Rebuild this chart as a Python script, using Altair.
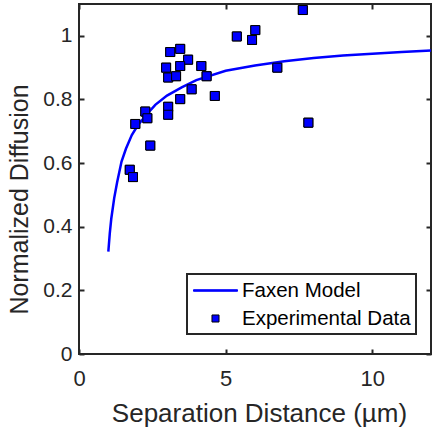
import altair as alt
import pandas as pd

# ---- data ----
series_names = ["Faxen Model", "Experimental Data"]

exp_dist = [5.38, 6.01, 5.90, 3.11, 3.45, 3.72, 2.97, 3.45, 4.17, 3.04, 3.31, 4.35, 3.84,
            3.45, 4.63, 2.26, 2.33, 3.04, 3.04, 1.92, 2.43, 1.73, 1.84, 7.63, 6.76, 7.82]
exp_diff = [0.998, 1.018, 0.987, 0.949, 0.959, 0.925, 0.900, 0.905, 0.905, 0.869, 0.873, 0.873, 0.832,
            0.801, 0.811, 0.762, 0.741, 0.777, 0.752, 0.723, 0.655, 0.579, 0.556, 1.081, 0.900, 0.727]

model_dist = [1.0, 1.05, 1.1, 1.2, 1.3, 1.45, 1.6, 1.8, 2.0, 2.3, 2.6, 3.0, 3.5, 4.0,
              5.0, 6.0, 7.0, 8.0, 9.0, 10.0, 11.0, 12.0]
model_diff = [0.322, 0.38, 0.425, 0.49, 0.54, 0.605, 0.645, 0.688, 0.718, 0.752, 0.783, 0.812,
              0.838, 0.861, 0.89, 0.907, 0.92, 0.93, 0.938, 0.944, 0.949, 0.954]

x_ticks = [0, 5, 10]
y_ticks = [0, 0.2, 0.4, 0.6, 0.8, 1]
x_domain = [0, 12]
y_domain = [0, 1.1]

pts = pd.DataFrame({"dist": exp_dist, "diff": exp_diff, "series": series_names[1]})
mdl = pd.DataFrame({"dist": model_dist, "diff": model_diff, "series": series_names[0]})

# ---- styling ----
W, H = 352, 350
FONT = "Liberation Sans"
AX = "#262626"
LINE_SHAPE = "M-2,-0.07H2V0.07H-2Z"
SQUARE_SHAPE = "M-0.32,-0.32H0.32V0.32H-0.32Z"

xs = alt.Scale(domain=x_domain, nice=False, zero=False)
ys = alt.Scale(domain=y_domain, nice=False, zero=False)

leg = alt.Legend(orient="none", legendX=108, legendY=270)
fill_enc = alt.Fill("series:N", title=None, legend=leg,
                    scale=alt.Scale(domain=series_names, range=["#0000ff", "#0000ff"]))
stroke_enc = alt.Stroke("series:N", title=None, legend=leg,
                        scale=alt.Scale(domain=series_names, range=["#0000ff", "#000000"]))
shape_enc = alt.Shape("series:N", title=None, legend=leg,
                      scale=alt.Scale(domain=series_names, range=[LINE_SHAPE, SQUARE_SHAPE]))

ax_x_main = alt.Axis(orient="bottom", values=x_ticks, ticks=False, domain=False, grid=False,
                     labelFontSize=22, labelPadding=14, labelFlush=False, titleFontSize=26,
                     titleFontWeight="normal", titleBaseline="alphabetic", titleY=67, titleX=180)
ax_x_in_bottom = alt.Axis(orient="top", offset=-H, values=x_ticks, labels=False, domain=False,
                          grid=False, ticks=True, tickSize=5, tickWidth=2)
ax_x_in_top = alt.Axis(orient="bottom", offset=-H, values=x_ticks, labels=False, domain=False,
                       grid=False, ticks=True, tickSize=5, tickWidth=2)

ax_y_main = alt.Axis(orient="left", values=y_ticks, format="~g", ticks=False, domain=False, grid=False,
                     labelFontSize=21, labelPadding=7, labelFlush=False, titleFontSize=25,
                     titleFontWeight="normal", titleBaseline="alphabetic", titleX=-52, titleY=195)
ax_y_in_left = alt.Axis(orient="right", offset=-W, values=y_ticks, labels=False, domain=False,
                        grid=False, ticks=True, tickSize=5, tickWidth=2)
ax_y_in_right = alt.Axis(orient="left", offset=-W, values=y_ticks, labels=False, domain=False,
                         grid=False, ticks=True, tickSize=5, tickWidth=2)

points_under = alt.Chart(pts).mark_point(filled=True, size=784, strokeWidth=1, opacity=1).encode(
    x=alt.X("dist:Q", scale=xs, axis=ax_x_main, title="Separation Distance (µm)"),
    y=alt.Y("diff:Q", scale=ys, axis=ax_y_main, title="Normalized Diffusion"),
    fill=fill_enc, stroke=stroke_enc, shape=shape_enc,
)

line = alt.Chart(mdl).mark_line(strokeWidth=2.5).encode(
    x=alt.X("dist:Q", scale=xs, axis=ax_x_in_bottom, title=None),
    y=alt.Y("diff:Q", scale=ys, axis=ax_y_in_left, title=None),
    stroke=stroke_enc,
)

points_over = alt.Chart(pts).mark_point(filled=True, size=784, strokeWidth=1, opacity=1).encode(
    x=alt.X("dist:Q", scale=xs, axis=ax_x_in_top, title=None),
    y=alt.Y("diff:Q", scale=ys, axis=ax_y_in_right, title=None),
    fill=fill_enc, stroke=stroke_enc, shape=shape_enc,
)

chart = alt.layer(points_under, line, points_over).resolve_scale(
    x="independent", y="independent"
).properties(
    width=W, height=H,
    padding={"left": 79, "top": 4, "right": 2, "bottom": 80},
    autosize=alt.AutoSizeParams(type="none"),
).configure_view(
    stroke=AX, strokeWidth=2
).configure_axis(
    labelColor=AX, titleColor=AX, tickColor=AX, labelFont=FONT, titleFont=FONT
).configure_legend(
    strokeColor=AX, strokeWidth=2, fillColor="white", padding=5, rowPadding=6,
    symbolSize=484, symbolStrokeWidth=1, symbolOffset=12, labelOffset=15, labelLimit=400,
    labelFont=FONT, labelFontSize=20.5, labelColor="#000000"
)

chart.save("out.html", embed_options={"renderer": "svg", "actions": False})
